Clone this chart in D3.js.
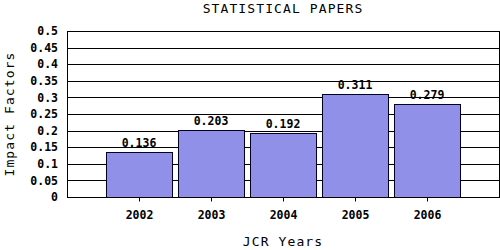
<!DOCTYPE html>
<html>
<head>
<meta charset="utf-8">
<script src="https://cdn.jsdelivr.net/npm/d3@7"></script>
<style>
  body { margin: 0; background: #fff; }
  text { font-family: "DejaVu Sans Mono", "Liberation Mono", monospace; }
</style>
</head>
<body>
<div id="chart"></div>
<script>
"use strict";

// chart data
const years = [2002, 2003, 2004, 2005, 2006];
const impactFactors = [0.136, 0.203, 0.192, 0.311, 0.279];
const yTicks = [0, 0.05, 0.1, 0.15, 0.2, 0.25, 0.3, 0.35, 0.4, 0.45, 0.5];

const msm = {
    width: 500,
    height: 250,
    left: 67,
    right: 499,
    top: 31,
    bottom: 197,
    barWidth: 66
};

const svg = d3.select("#chart")
    .append("svg")
    .attr("width", msm.width)
    .attr("height", msm.height);

// one empty slot either side of the years
let xScale = d3.scaleLinear()
    .domain([years[0] - 1, years[years.length - 1] + 1])
    .range([msm.left, msm.right]);

let yScale = d3.scaleLinear()
    .domain([0, 0.5])
    .range([msm.bottom, msm.top]);

// horizontal grid lines
svg.append("g")
    .selectAll("line")
    .data(yTicks)
    .enter()
    .append("line")
    .attr("x1", msm.left)
    .attr("x2", msm.right)
    .attr("y1", d => Math.round(yScale(d)) + 0.5)
    .attr("y2", d => Math.round(yScale(d)) + 0.5)
    .attr("stroke", "#000")
    .attr("stroke-width", 1);

// bars
svg.append("g")
    .selectAll("rect")
    .data(impactFactors)
    .enter()
    .append("rect")
    .attr("x", (d, i) => Math.round(xScale(years[i]) - msm.barWidth / 2) + 0.5)
    .attr("y", d => Math.round(yScale(d)) + 0.5)
    .attr("width", msm.barWidth)
    .attr("height", d => Math.round(yScale(0)) - Math.round(yScale(d)))
    .attr("fill", "#9090e8")
    .attr("stroke", "#000022")
    .attr("stroke-width", 1);

// value labels
svg.append("g")
    .selectAll("text")
    .data(impactFactors)
    .enter()
    .append("text")
    .attr("x", (d, i) => xScale(years[i]))
    .attr("y", d => yScale(d) - 5)
    .attr("text-anchor", "middle")
    .style("font-size", "11.5px")
    .style("font-weight", "bold")
    .text(d => d);

// plot frame
svg.append("rect")
    .attr("x", msm.left + 0.5)
    .attr("y", msm.top + 0.5)
    .attr("width", msm.right - msm.left)
    .attr("height", msm.bottom - msm.top)
    .attr("fill", "none")
    .attr("stroke", "#000");

// x axis ticks and labels
let xAxis = d3.axisBottom(xScale)
    .tickValues(years)
    .tickFormat(d3.format("d"))
    .tickSize(4)
    .tickSizeOuter(0);
let gx = svg.append("g")
    .attr("transform", "translate(0," + (msm.bottom + 0.5) + ")")
    .call(xAxis);
gx.select(".domain").remove();
gx.selectAll("text")
    .attr("y", 13)
    .style("font-size", "11.5px")
    .style("font-weight", "bold")
    .style("font-family", "DejaVu Sans Mono, monospace")
    .attr("fill", "#000");

// y axis labels
let yAxis = d3.axisLeft(yScale)
    .tickValues(yTicks)
    .tickFormat(d => d)
    .tickSize(0)
    .tickPadding(9);
let gy = svg.append("g")
    .attr("transform", "translate(" + msm.left + ",0)")
    .call(yAxis);
gy.select(".domain").remove();
gy.selectAll("text")
    .style("font-size", "11.5px")
    .style("font-weight", "bold")
    .style("font-family", "DejaVu Sans Mono, monospace")
    .attr("fill", "#000");

// title and axis titles
const midX = (msm.left + msm.right) / 2;
svg.append("text")
    .attr("x", midX)
    .attr("y", 13)
    .attr("text-anchor", "middle")
    .style("font-size", "13px")
    .style("letter-spacing", "1.1px")
    .text("STATISTICAL PAPERS");

svg.append("text")
    .attr("x", midX)
    .attr("y", 246)
    .attr("text-anchor", "middle")
    .style("font-size", "13px")
    .style("letter-spacing", "1.1px")
    .text("JCR Years");

svg.append("text")
    .attr("transform", "translate(14," + ((msm.top + msm.bottom) / 2) + ") rotate(-90)")
    .attr("text-anchor", "middle")
    .style("font-size", "13px")
    .style("letter-spacing", "1.1px")
    .text("Impact Factors");
</script>
</body>
</html>
